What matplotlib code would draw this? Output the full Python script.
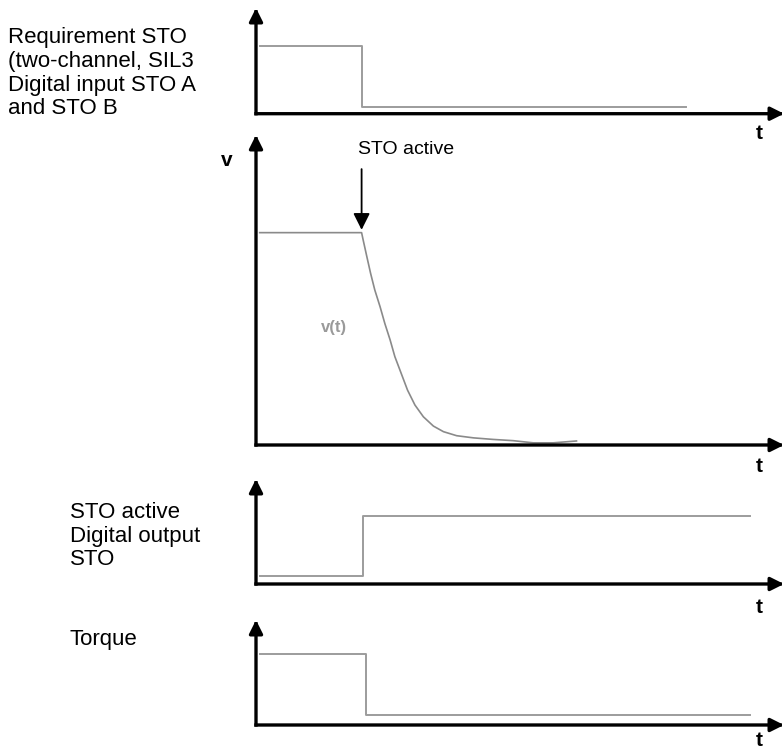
import matplotlib
matplotlib.use("Agg")
import matplotlib.pyplot as plt

plt.rcParams['font.family'] = ['Liberation Sans', 'DejaVu Sans']

# ---------------- data ----------------
# time in arbitrary units (0 .. 10 along each time axis)
req_t = [0.07, 2.0, 8.14]          # Requirement STO (input)
req_level = [0.64, 0.06, 0.06]

v_t = [0.07, 2.0, 2.03, 2.10, 2.17, 2.25, 2.35, 2.44, 2.54, 2.63, 2.75,
       2.87, 3.01, 3.17, 3.36, 3.55, 3.80, 4.12, 4.49, 4.87, 5.25, 5.63, 6.07]
v_values = [68.5, 68.5, 66.1, 60.7, 55.4, 50.0, 44.6, 39.2, 33.9, 28.5, 23.1,
            17.7, 12.9, 9.1, 6.1, 4.3, 3.0, 2.3, 1.8, 1.4, 0.7, 0.7, 1.3]

sto_out_t = [0.07, 2.03, 9.36]     # STO active digital output
sto_out_level = [0.08, 0.65, 0.65]

torque_t = [0.07, 2.08, 9.36]      # Torque
torque_level = [0.68, 0.095, 0.095]

sto_event_t = 2.0                  # moment STO becomes active

left_labels = [
    ["Requirement STO", "(two-channel, SIL3", "Digital input STO A", "and STO B"],
    ["STO active", "Digital output", "STO"],
    ["Torque"],
]

# ---------------- layout helpers ----------------
W, H = 784, 751
fig = plt.figure(figsize=(W / 100, H / 100), dpi=100)


def fx(px):
    return px / W


def fy(py):
    return 1 - py / H


def make_axes(axis_py, top_py, ymax):
    ax = fig.add_axes([fx(256), fy(axis_py), fx(784) - fx(256), (axis_py - top_py) / H])
    ax.set_xlim(0, 10)
    ax.set_ylim(0, ymax)
    ax.set_axis_off()
    ap = dict(arrowstyle='-|>,head_length=0.4,head_width=0.2', mutation_scale=20,
              lw=2.4, color='black', shrinkA=0, shrinkB=0, capstyle='projecting')
    ax.annotate('', xy=(0, 1), xytext=(0, 0), xycoords='axes fraction',
                textcoords='axes fraction', arrowprops=ap, annotation_clip=False)
    ax.annotate('', xy=(1, 0), xytext=(0, 0), xycoords='axes fraction',
                textcoords='axes fraction', arrowprops=ap, annotation_clip=False)
    return ax


sig_color = '#9c9c9c'

ax1 = make_axes(113.7, 8, 1.0)
ax1.step(req_t, req_level, where='post', color=sig_color, lw=1.4)

ax2 = make_axes(445, 135, 100.0)
ax2.plot(v_t, v_values, color='#8a8a8a', lw=1.2, solid_joinstyle='round')
ax2.annotate('', xy=(sto_event_t, 69.4), xytext=(sto_event_t, 89.0),
             arrowprops=dict(arrowstyle='-|>,head_length=0.5,head_width=0.25',
                             mutation_scale=20, lw=1.3, color='black',
                             shrinkA=0, shrinkB=0))

ax3 = make_axes(584, 479, 1.0)
ax3.step(sto_out_t, sto_out_level, where='post', color=sig_color, lw=1.4)

ax4 = make_axes(725, 620, 1.0)
ax4.step(torque_t, torque_level, where='post', color=sig_color, lw=1.4)

# ---------------- texts ----------------
label_fs = 16
for lines, x0, baselines in [
    (left_labels[0], 8, [43, 67, 91, 114]),
    (left_labels[1], 70, [518, 542, 565]),
    (left_labels[2], 70, [645]),
]:
    for line, b in zip(lines, baselines):
        fig.text(fx(x0), fy(b), line, fontsize=label_fs, ha='left', va='baseline')

fig.text(fx(358), fy(154), "STO active", fontsize=14, ha='left', va='baseline')
fig.text(fx(227), fy(166), "v", fontsize=15, fontweight='bold', ha='center', va='baseline')
fig.text(fx(334), fy(332), "v(t)", fontsize=12, fontweight='bold', color='#9a9a9a',
         ha='center', va='baseline')

for b in [139, 472, 613, 746]:
    fig.text(fx(759.5), fy(b), "t", fontsize=15, fontweight='bold', ha='center', va='baseline')

fig.savefig('out.png', dpi=100)
